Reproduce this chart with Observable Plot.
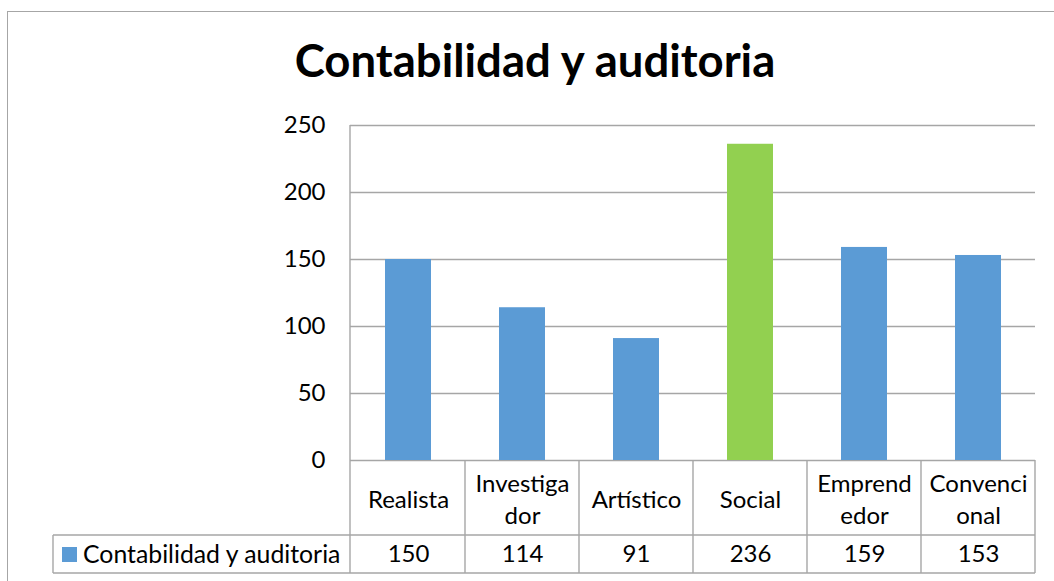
<!DOCTYPE html>
<html><head><meta charset="utf-8">
<script src="https://cdn.jsdelivr.net/npm/d3@7"></script>
<script src="https://cdn.jsdelivr.net/npm/@observablehq/plot@0.6"></script>
<style>
body{margin:0;background:#fff;}
#frame{position:relative;width:1054px;height:581px;overflow:hidden;font-family:Lato,"Open Sans",sans-serif;}
#border{position:absolute;left:7px;top:11px;width:1100px;height:700px;border:1.5px solid #a6a6a6;}
#title{position:absolute;left:0;width:1070px;top:31px;text-align:center;font-weight:bold;font-size:45.5px;line-height:58px;color:#000;}
#chart{position:absolute;left:0;top:100px;}
</style></head>
<body>
<div id="frame"><div id="border"></div><div id="title"></div><div id="chart"></div></div>
<script>
const chartTitle = "Contabilidad y auditoria";
const seriesName = "Contabilidad y auditoria";
const categories = ["Realista", "Investigador", "Artístico", "Social", "Emprendedor", "Convencional"];
const categoryLabels = ["Realista", "Investiga\ndor", "Artístico", "Social", "Emprend\nedor", "Convenci\nonal"];
const values = [150, 114, 91, 236, 159, 153];
const yTicks = [0, 50, 100, 150, 200, 250];
const highlighted = "Social";

const blue = "#5b9bd5", green = "#92d050", lineColor = "#a6a6a6";
const data = categories.map((c, i) => ({category: c, label: categoryLabels[i], value: values[i]}));

document.getElementById("title").textContent = chartTitle;

const row1H = 75, row2H = 38, legendLeft = 53;

function tableGrid(index, scales, vals, dims) {
  const x = scales.x;
  const g = d3.create("svg:g").attr("stroke", lineColor).attr("stroke-width", 1.4).attr("fill", "none");
  const left = dims.marginLeft, right = dims.width - dims.marginRight;
  const top = dims.marginTop, y0 = dims.height - dims.marginBottom;
  const yA = y0 + row1H, yB = yA + row2H;
  const half = (x.step() - x.bandwidth()) / 2;
  g.append("line").attr("x1", left).attr("x2", left).attr("y1", top).attr("y2", yB);
  categories.forEach((c, i) => {
    if (i === 0) return;
    const cx = x(c) - half;
    g.append("line").attr("x1", cx).attr("x2", cx).attr("y1", y0).attr("y2", yB);
  });
  g.append("line").attr("x1", right).attr("x2", right).attr("y1", y0).attr("y2", yB);
  g.append("line").attr("x1", legendLeft).attr("x2", legendLeft).attr("y1", yA).attr("y2", yB);
  g.append("line").attr("x1", legendLeft).attr("x2", right).attr("y1", yA).attr("y2", yA);
  g.append("line").attr("x1", legendLeft).attr("x2", right).attr("y1", yB).attr("y2", yB);
  const lg = g.append("g").attr("stroke", "none");
  lg.append("rect").attr("x", legendLeft + 9).attr("y", yA + 12).attr("width", 15).attr("height", 15).attr("fill", blue);
  lg.append("text").attr("x", legendLeft + 30).attr("y", yA + row2H / 2).attr("dy", "0.35em")
    .attr("text-anchor", "start").attr("fill", "#000").attr("font-size", 24.8).text(seriesName);
  return g.node();
}

const plot = Plot.plot({
  width: 1054,
  height: 481,
  marginLeft: 350,
  marginRight: 19,
  marginTop: 25,
  marginBottom: 121,
  style: {fontFamily: "Lato, 'Open Sans', sans-serif", fontSize: "24px", color: "#000", background: "transparent"},
  x: {domain: categories, paddingInner: 0.6, paddingOuter: 0.3, axis: null},
  y: {domain: [0, 250], ticks: yTicks, axis: null, label: null},
  marks: [
    Plot.gridY(yTicks, {stroke: lineColor, strokeOpacity: 1, strokeWidth: 1.4}),
    Plot.barY(data, {x: "category", y: "value", fill: d => d.category === highlighted ? green : blue}),
    Plot.axisY(yTicks, {tickSize: 0, tickPadding: 25, fontSize: 24, fill: "#000", label: null}),
    Plot.text(data, {x: "category", text: "label", frameAnchor: "bottom", dy: row1H / 2, lineAnchor: "middle", lineHeight: 1.3, fontSize: 24, fill: "#000"}),
    Plot.text(data, {x: "category", text: d => String(d.value), frameAnchor: "bottom", dy: row1H + row2H / 2, lineAnchor: "middle", fontSize: 24, fill: "#000"}),
    tableGrid
  ]
});
document.getElementById("chart").appendChild(plot);
</script>
</body></html>
